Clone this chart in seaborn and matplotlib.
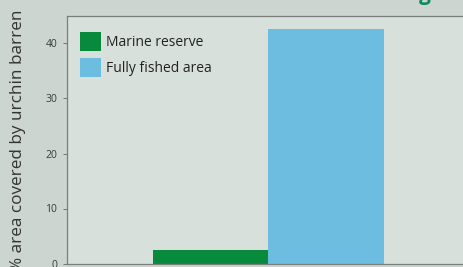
import matplotlib
matplotlib.use("Agg")
import matplotlib.pyplot as plt
import seaborn as sns
import pandas as pd

# Data
sites = ["", ""]
areas = ["Marine reserve", "Fully fished area"]
values = [2.4, 42.6]
colors = ["#078a3c", "#6cbde0"]
yticks = [0, 10, 20, 30, 40]
ylabel = "% area covered by urchin barren"

sns.set_theme(style="white")
plt.rcParams['font.family'] = ['Open Sans', 'DejaVu Sans']

W, H = 463, 267
fig = plt.figure(figsize=(W / 100, H / 100), dpi=100, facecolor="#ccd5d0")
ax = fig.add_axes([67 / W, 3.5 / H, (470 - 67) / W, (263.5 - 16) / H])
ax.set_facecolor("#d8e0dc")

df = pd.DataFrame({"site": sites, "area": areas, "value": values})
sns.barplot(data=df, x="site", y="value", hue="area", palette=colors,
            width=0.8, saturation=1, ax=ax, edgecolor="none", legend=True)

# bars centred at 0, each 0.4 wide; pixel span 152..383 -> 231 px for 0.8
ppu = 231 / 0.8
ax.set_xlim((67 - 268) / ppu, (470 - 268) / ppu)
ax.set_ylim(0, (263.5 - 16) / 5.5)
ax.set_yticks(yticks)
ax.set_yticklabels([str(t) for t in yticks], fontsize=7.5, color="#3a3a3a")
ax.set_xticks([])
ax.set_xlabel("")
ax.set_ylabel("")
ax.tick_params(axis="y", length=3, width=0.6, color="#666666", pad=4, left=True)

for s in ["left", "bottom", "top"]:
    ax.spines[s].set_color("#7a7f7c")
    ax.spines[s].set_linewidth(0.9)
ax.spines["right"].set_visible(False)

handles, labels = ax.get_legend_handles_labels()
ax.legend(handles, labels, loc="upper left",
          bbox_to_anchor=(80 / W, 1 - 32 / H), bbox_transform=fig.transFigure,
          frameon=False, fontsize=10, borderpad=0, borderaxespad=0,
          handlelength=1.5, handleheight=1.75, labelspacing=0.5,
          handletextpad=0.35, labelcolor="#222222")

fig.text(18 / W, 1 - 140 / H, ylabel, rotation=90, ha="center", va="center",
         fontsize=12.3, color="#333333")
fig.text(425 / W, 1 - 5 / H, "g", ha="center", va="bottom",
         fontsize=15, fontweight="bold", color="#0f8a5c")

fig.savefig("out.png", dpi=100, facecolor=fig.get_facecolor())
